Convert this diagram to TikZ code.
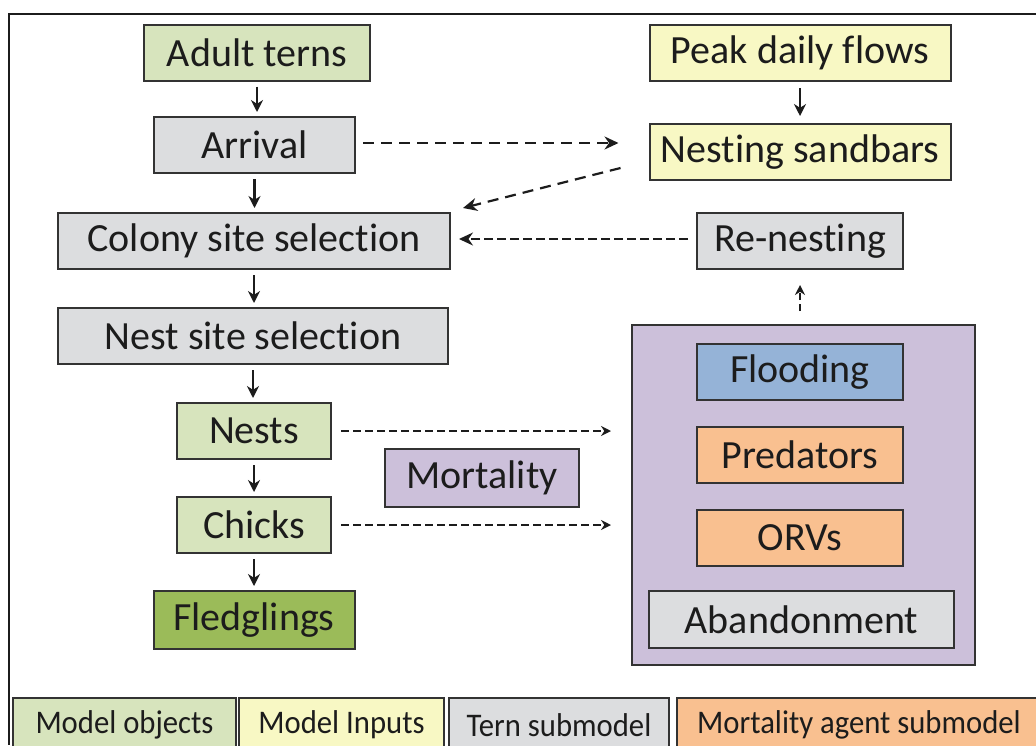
\documentclass[tikz,border=0pt]{standalone}
\usepackage{fontspec}
\setmainfont{Carlito}[Ligatures=NoCommon]
\newfontfamily\legendfont{Carlito}[Ligatures=NoCommon, FakeStretch=0.93]
\usepackage{tikz}
\usetikzlibrary{arrows.meta}

\definecolor{objgreen}{HTML}{D7E4BD}
\definecolor{fledgreen}{HTML}{9BBB59}
\definecolor{inyellow}{HTML}{F8F8C4}
\definecolor{terngrey}{HTML}{DCDDDF}
\definecolor{mortpurple}{HTML}{CCC0DA}
\definecolor{floodblue}{HTML}{95B3D7}
\definecolor{agentorange}{HTML}{F9C090}
\definecolor{ink}{HTML}{1C1C1C}

\tikzset{
  box/.style={draw=ink!90, line width=2pt, inner sep=0pt, minimum height=56pt,
    text=ink, font=\fontsize{40}{48}\selectfont},
  objbox/.style={box, fill=objgreen},
  inbox/.style={box, fill=inyellow},
  ternbox/.style={box, fill=terngrey},
  agentbox/.style={box, fill=agentorange},
  legbox/.style={box, minimum height=54pt, anchor=north west,
    font=\legendfont\fontsize{33}{40}\selectfont},
  flow/.style={-{Stealth[length=12pt,width=12pt]}, line width=2.8pt, draw=ink},
  link/.style={-{Stealth[length=14pt,width=13pt]}, line width=2.2pt, draw=ink,
    dash pattern=on 11pt off 7pt},
  thin link/.style={-{Stealth[length=10pt,width=10pt]}, line width=1.6pt, draw=ink,
    dash pattern=on 8pt off 4pt}
}

\begin{document}
\begin{tikzpicture}[x=1pt, y=-1pt]
  \useasboundingbox (0,0) rectangle (1036,745);
  \draw[line width=1.5pt, ink] (1036,14) -- (9,14) -- (9,745);

  % Tern life cycle
  \node[objbox, minimum width=226pt] (adult) at (257,52.5) {Adult terns};
  \node[ternbox, minimum width=201pt] (arrival) at (254.5,145) {Arrival};
  \node[ternbox, minimum width=392pt] (colony) at (254,241) {Colony site selection};
  \node[ternbox, minimum width=390pt] (nestsite) at (253,336) {Nest site selection};
  \node[objbox, minimum width=154pt] (nests) at (254,431) {Nests};
  \node[objbox, minimum width=154pt] (chicks) at (254,525) {Chicks};
  \node[box, fill=fledgreen, minimum width=201pt, minimum height=58pt] (fledglings) at (254,620) {Fledglings};

  % Model inputs
  \node[inbox, minimum width=301pt] (peak) at (800,53) {Peak daily flows};
  \node[inbox, minimum width=301pt] (sandbars) at (800,152) {Nesting sandbars};
  \node[ternbox, minimum width=206pt] (renest) at (800,241) {Re-nesting};

  % Mortality agents
  \node[box, fill=mortpurple, minimum width=343pt, minimum height=340pt] (mortbox) at (803.5,495) {};
  \node[box, fill=floodblue, minimum width=206pt] (flooding) at (800,372) {Flooding};
  \node[agentbox, minimum width=206pt] (predators) at (800,455) {Predators};
  \node[agentbox, minimum width=206pt] (orvs) at (800,538) {ORVs};
  \node[ternbox, minimum width=305pt, minimum height=57pt] (abandon) at (801.5,619.5) {Abandonment};
  \node[box, fill=mortpurple, minimum width=194pt, minimum height=58pt] (mortality) at (482,478) {Mortality};

  % Arrows down the life cycle
  \draw[flow, shorten <=5pt, shorten >=4pt] (adult) -- (adult |- arrival.north);
  \draw[flow, shorten <=5pt, shorten >=4pt] (arrival) -- (arrival |- colony.north);
  \draw[flow, shorten <=5pt, shorten >=4pt] (colony) -- (colony |- nestsite.north);
  \draw[flow, shorten <=5pt, shorten >=4pt] (nestsite) -- (nestsite |- nests.north);
  \draw[flow, shorten <=5pt, shorten >=4pt] (nests) -- (chicks);
  \draw[flow, shorten <=5pt, shorten >=4pt] (chicks) -- (fledglings);
  \draw[flow, line width=2.2pt, shorten <=6pt, shorten >=7pt] (peak) -- (sandbars);

  % Dashed links
  \draw[link, shorten <=7pt, shorten >=30pt] ([yshift=2pt]arrival.east) -- ([yshift=2pt]arrival.east -| sandbars.west);
  \draw[link] ([shift={(-28,16)}]sandbars.west) -- ([shift={(12,-4)}]colony.north east);
  \draw[link, line width=1.8pt, dash pattern=on 9pt off 4pt, shorten <=8pt, shorten >=8pt] ([yshift=2pt]renest.west) -- ([yshift=2pt]colony.east);
  \draw[thin link, shorten <=9pt, shorten >=20pt] (nests.east) -- (nests.east -| mortbox.west);
  \draw[thin link, shorten <=9pt, shorten >=20pt] (chicks.east) -- (chicks.east -| mortbox.west);
  \draw[thin link, line width=2pt, dash pattern=on 7pt off 4pt, shorten <=13pt, shorten >=15pt] (mortbox.north -| renest) -- (renest);

  % Legend
  \node[legbox, fill=objgreen, minimum width=223pt] (legobj) at (12,697) {Model objects};
  \node[legbox, fill=inyellow, minimum width=205pt] (legin) at (238,697) {Model Inputs};
  \node[legbox, fill=terngrey, minimum width=220pt] (legtern) at (448,697) {Tern submodel};
  \node[legbox, fill=agentorange, minimum width=364pt] (legagent) at (676,697) {Mortality agent submodel};
\end{tikzpicture}
\end{document}
